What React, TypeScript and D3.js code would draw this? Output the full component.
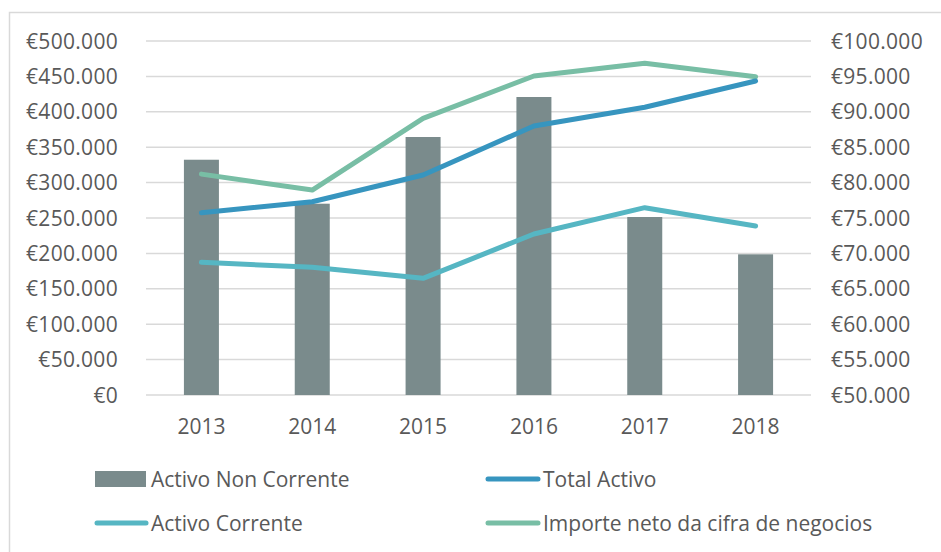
import React from "react";
import * as d3 from "d3";

const years = ["2013", "2014", "2015", "2016", "2017", "2018"];
const activoNonCorrente = [332300, 270200, 364400, 420900, 251400, 198700];
const totalActivo = [257500, 273000, 310700, 380000, 406400, 443500];
const activoCorrente = [187400, 180400, 164800, 227400, 264600, 238700];
const importeNeto = [81200, 78950, 89080, 95060, 96850, 94960];
const leftTicks = [0, 50000, 100000, 150000, 200000, 250000, 300000, 350000, 400000, 450000, 500000];
const rightTicks = [50000, 55000, 60000, 65000, 70000, 75000, 80000, 85000, 90000, 95000, 100000];

const W = 941, H = 552;
const left = 146, right = 811, top = 41, bottom = 395;
const FONT = "'Open Sans', sans-serif";
const TXT = "#595959";
const FS = 21;

const fmt = (v: number) => "€" + d3.format(",")(v).replace(/,/g, ".");

export default function App() {
  const x = d3.scaleBand().domain(years).range([left, right]).paddingInner(0).paddingOuter(0);
  const yL = d3.scaleLinear().domain([0, 500000]).range([bottom, top]);
  const yR = d3.scaleLinear().domain([50000, 100000]).range([bottom, top]);
  const cx = (y: string) => (x(y) as number) + x.bandwidth() / 2;
  const barW = 35;

  const lineL = d3.line<number>().x((_, i) => cx(years[i])).y((d) => yL(d));
  const lineR = d3.line<number>().x((_, i) => cx(years[i])).y((d) => yR(d));

  const series = [
    { d: lineR(importeNeto), c: "#78bea5", w: 5 },
    { d: lineL(activoCorrente), c: "#56b6c3", w: 5 },
    { d: lineL(totalActivo), c: "#3795bf", w: 5 },
  ];

  return (
    <svg width={W} height={H} style={{ position: "absolute", left: 0, top: 0, background: "#fff" }} fontFamily={FONT}>
      <rect x={0} y={0} width={W} height={H} fill="#fff" />
      <rect x={9.5} y={12.5} width={1000} height={1000} fill="none" stroke="#d9d9d9" strokeWidth={1.5} />
      {leftTicks.map((t) => (
        <line key={t} x1={left} x2={right} y1={yL(t)} y2={yL(t)} stroke="#d9d9d9" strokeWidth={1.5} />
      ))}
      {leftTicks.map((t) => (
        <text key={"l" + t} x={118} y={yL(t)} dy="0.36em" textAnchor="end" fontSize={FS} letterSpacing={0.3} fill={TXT}>
          {fmt(t)}
        </text>
      ))}
      {rightTicks.map((t) => (
        <text key={"r" + t} x={831} y={yR(t)} dy="0.36em" textAnchor="start" fontSize={FS} letterSpacing={0.3} fill={TXT}>
          {fmt(t)}
        </text>
      ))}
      {years.map((y, i) => (
        <rect key={y} x={cx(y) - barW / 2} y={yL(activoNonCorrente[i])} width={barW} height={bottom - yL(activoNonCorrente[i])} fill="#7a8b8c" />
      ))}
      {series.map((s, i) => (
        <path key={i} d={s.d || ""} fill="none" stroke={s.c} strokeWidth={s.w} strokeLinecap="round" strokeLinejoin="round" />
      ))}
      {years.map((y) => (
        <text key={"x" + y} x={cx(y)} y={426} dy="0.36em" textAnchor="middle" fontSize={FS} fill={TXT}>
          {y}
        </text>
      ))}
      <g fontSize={FS} fill={TXT}>
        <rect x={95} y={471} width={51} height={16} fill="#7a8b8c" />
        <text x={151} y={479} dy="0.36em">Activo Non Corrente</text>
        <line x1={488} x2={538} y1={479} y2={479} stroke="#3795bf" strokeWidth={5} strokeLinecap="round" />
        <text x={543} y={479} dy="0.36em">Total Activo</text>
        <line x1={97} x2={146} y1={523} y2={523} stroke="#56b6c3" strokeWidth={5} strokeLinecap="round" />
        <text x={151} y={523} dy="0.36em">Activo Corrente</text>
        <line x1={488} x2={538} y1={523} y2={523} stroke="#78bea5" strokeWidth={5} strokeLinecap="round" />
        <text x={543} y={523} dy="0.36em">Importe neto da cifra de negocios</text>
      </g>
    </svg>
  );
}
